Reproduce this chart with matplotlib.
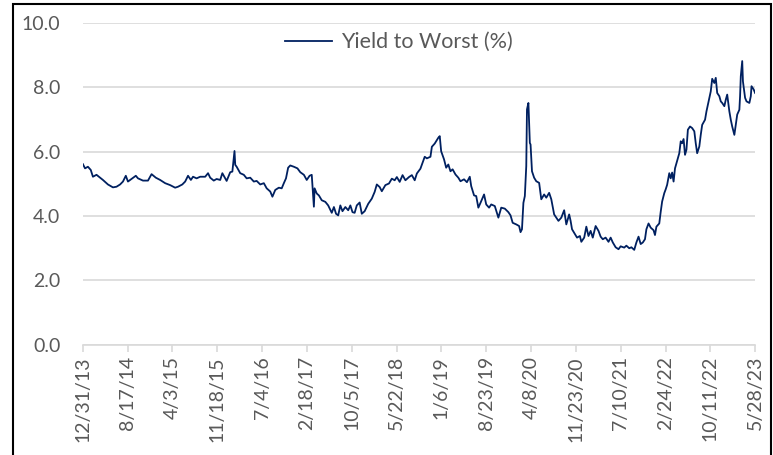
import numpy as np
import pandas as pd
import matplotlib
matplotlib.use("Agg")
import matplotlib.pyplot as plt
from matplotlib.patches import Rectangle

# values (decimal year, yield %)
years = [
    2014.00, 2014.03, 2014.07, 2014.11, 2014.14, 2014.19, 2014.24, 2014.28, 2014.35, 2014.42,
    2014.47, 2014.52, 2014.56, 2014.60, 2014.63, 2014.68, 2014.74, 2014.77, 2014.84, 2014.91,
    2014.96, 2015.02, 2015.08, 2015.15, 2015.22, 2015.29, 2015.33, 2015.39, 2015.43, 2015.47,
    2015.51, 2015.54, 2015.59, 2015.64, 2015.71, 2015.75, 2015.78, 2015.83, 2015.87, 2015.92,
    2015.95, 2016.01, 2016.06, 2016.09, 2016.12, 2016.13, 2016.15, 2016.20, 2016.25, 2016.29,
    2016.34, 2016.39, 2016.43, 2016.48, 2016.53, 2016.57, 2016.62, 2016.65, 2016.69, 2016.74,
    2016.78, 2016.81, 2016.84, 2016.87, 2016.90, 2016.95, 2017.00, 2017.04, 2017.09, 2017.13,
    2017.17, 2017.20, 2017.21, 2017.23, 2017.24, 2017.27, 2017.30, 2017.34, 2017.39, 2017.43,
    2017.48, 2017.51, 2017.54, 2017.57, 2017.60, 2017.63, 2017.67, 2017.71, 2017.74, 2017.77,
    2017.80, 2017.83, 2017.87, 2017.90, 2017.94, 2017.99, 2018.04, 2018.08, 2018.11, 2018.15,
    2018.18, 2018.23, 2018.28, 2018.32, 2018.36, 2018.39, 2018.43, 2018.47, 2018.51, 2018.56,
    2018.60, 2018.64, 2018.67, 2018.72, 2018.75, 2018.78, 2018.81, 2018.86, 2018.88, 2018.92,
    2018.97, 2018.99, 2019.01, 2019.05, 2019.08, 2019.11, 2019.14, 2019.17, 2019.21, 2019.25,
    2019.28, 2019.33, 2019.37, 2019.41, 2019.43, 2019.47, 2019.50, 2019.53, 2019.56, 2019.61,
    2019.64, 2019.68, 2019.71, 2019.76, 2019.81, 2019.85, 2019.90, 2019.95, 2019.98, 2020.01,
    2020.06, 2020.10, 2020.12, 2020.14, 2020.16, 2020.18, 2020.20, 2020.21, 2020.23, 2020.25,
    2020.26, 2020.28, 2020.31, 2020.34, 2020.38, 2020.41, 2020.45, 2020.48, 2020.52, 2020.55,
    2020.59, 2020.62, 2020.65, 2020.69, 2020.73, 2020.76, 2020.80, 2020.82, 2020.84, 2020.88,
    2020.91, 2020.95, 2020.97, 2021.01, 2021.04, 2021.07, 2021.10, 2021.13, 2021.17, 2021.21,
    2021.24, 2021.27, 2021.31, 2021.35, 2021.38, 2021.41, 2021.45, 2021.49, 2021.52, 2021.57,
    2021.60, 2021.64, 2021.67, 2021.71, 2021.74, 2021.77, 2021.80, 2021.83, 2021.86, 2021.88,
    2021.91, 2021.94, 2021.98, 2022.00, 2022.02, 2022.06, 2022.08, 2022.10, 2022.13, 2022.15,
    2022.17, 2022.20, 2022.22, 2022.24, 2022.26, 2022.28, 2022.30, 2022.34, 2022.36, 2022.38,
    2022.40, 2022.42, 2022.44, 2022.46, 2022.49, 2022.52, 2022.55, 2022.57, 2022.59, 2022.62,
    2022.64, 2022.66, 2022.70, 2022.72, 2022.76, 2022.78, 2022.80, 2022.83, 2022.85, 2022.87,
    2022.90, 2022.92, 2022.94, 2022.97, 2022.99, 2023.01, 2023.04, 2023.06, 2023.08, 2023.11,
    2023.13, 2023.15, 2023.18, 2023.19, 2023.20, 2023.22, 2023.23, 2023.26, 2023.28, 2023.32,
    2023.34, 2023.35, 2023.38, 2023.40,
]
ytw = [
    5.61, 5.48, 5.53, 5.43, 5.22, 5.28, 5.19, 5.12, 4.98, 4.89,
    4.91, 4.98, 5.07, 5.25, 5.07, 5.15, 5.25, 5.17, 5.10, 5.10,
    5.30, 5.19, 5.12, 5.02, 4.96, 4.88, 4.91, 4.98, 5.07, 5.25,
    5.12, 5.22, 5.17, 5.22, 5.22, 5.33, 5.19, 5.10, 5.15, 5.12,
    5.33, 5.09, 5.36, 5.38, 6.02, 5.59, 5.53, 5.33, 5.28, 5.17,
    5.19, 5.07, 5.09, 4.98, 5.02, 4.86, 4.76, 4.60, 4.81, 4.88,
    4.86, 5.02, 5.17, 5.50, 5.57, 5.53, 5.48, 5.36, 5.28, 5.12,
    5.25, 5.28, 4.96, 4.29, 4.86, 4.70, 4.64, 4.49, 4.44, 4.33,
    4.10, 4.28, 4.07, 4.02, 4.33, 4.15, 4.28, 4.18, 4.33, 4.12,
    4.10, 4.33, 4.42, 4.07, 4.15, 4.38, 4.54, 4.75, 4.98, 4.90,
    4.77, 4.96, 5.01, 5.16, 5.11, 5.21, 5.06, 5.27, 5.11, 5.21,
    5.27, 5.11, 5.32, 5.47, 5.66, 5.84, 5.79, 5.84, 6.15, 6.25,
    6.43, 6.48, 6.01, 5.76, 5.50, 5.60, 5.39, 5.45, 5.29, 5.19,
    5.08, 5.14, 5.05, 5.22, 4.93, 4.64, 4.62, 4.26, 4.41, 4.67,
    4.36, 4.26, 4.36, 4.31, 3.95, 4.26, 4.23, 4.12, 4.02, 3.79,
    3.74, 3.69, 3.50, 3.59, 4.41, 4.62, 5.55, 7.31, 7.51, 6.27,
    6.22, 5.39, 5.19, 5.08, 5.03, 4.52, 4.67, 4.57, 4.72, 4.52,
    4.05, 3.95, 3.85, 3.95, 4.18, 3.74, 4.05, 3.85, 3.59, 3.44,
    3.33, 3.38, 3.20, 3.33, 3.67, 3.38, 3.54, 3.33, 3.69, 3.54,
    3.36, 3.28, 3.33, 3.20, 3.33, 3.18, 3.03, 2.97, 3.06, 3.02,
    3.08, 3.00, 3.03, 2.95, 3.18, 3.36, 3.13, 3.18, 3.28, 3.59,
    3.77, 3.64, 3.56, 3.41, 3.67, 3.77, 4.13, 4.45, 4.71, 4.83,
    4.97, 5.33, 5.17, 5.35, 5.07, 5.48, 5.64, 5.95, 6.32, 6.26,
    6.39, 5.90, 6.06, 6.68, 6.78, 6.73, 6.63, 6.26, 5.95, 6.16,
    6.52, 6.83, 6.99, 7.25, 7.67, 7.87, 8.26, 8.13, 8.29, 7.82,
    7.72, 7.56, 7.51, 7.41, 7.61, 7.77, 7.25, 6.99, 6.78, 6.52,
    6.83, 7.15, 7.30, 7.72, 8.34, 8.81, 8.18, 7.67, 7.56, 7.51,
    7.72, 8.03, 7.93, 7.82,
]
tick_labels = ["12/31/13", "8/17/14", "4/3/15", "11/18/15", "7/4/16", "2/18/17",
               "10/5/17", "5/22/18", "1/6/19", "8/23/19", "4/8/20", "11/23/20",
               "7/10/21", "2/24/22", "10/11/22", "5/28/23"]
y_ticks = [0, 2, 4, 6, 8, 10]

plt.rcParams["font.family"] = ["Lato", "DejaVu Sans"]

dates = pd.Timestamp("2014-01-01") + pd.to_timedelta((np.array(years) - 2014) * 365.25, unit="D")
tick_dates = pd.to_datetime(tick_labels, format="%m/%d/%y")

fig = plt.figure(figsize=(7.73, 4.55), dpi=100)
ax = fig.add_axes([0.107, 0.242, 0.870, 0.708])

ax.plot(dates, ytw, color="#002060", lw=1.3, label="Yield to Worst (%)")

ax.set_xlim(tick_dates[0], tick_dates[-1])
ax.set_ylim(0, 10)
ax.set_yticks(y_ticks)
ax.set_yticklabels([f"{v:.1f}" for v in y_ticks])
ax.set_xticks(tick_dates)
ax.set_xticklabels(tick_labels, rotation=90)

ax.grid(axis="y", color="#d9d9d9", lw=1.2)
ax.set_axisbelow(True)
for s in ["top", "right", "left"]:
    ax.spines[s].set_visible(False)
ax.spines["bottom"].set_color("#d9d9d9")
ax.spines["bottom"].set_linewidth(1.2)
ax.tick_params(axis="y", length=0, pad=16, labelsize=14, labelcolor="#595959")
ax.tick_params(axis="x", length=5, width=1.2, color="#d9d9d9", pad=3,
               labelsize=14, labelcolor="#595959")

leg = ax.legend(loc="center", bbox_to_anchor=(0.47, 0.94), frameon=False,
                handlelength=2.2, handletextpad=0.4, fontsize=15.5)
for t in leg.get_texts():
    t.set_color("#595959")

# outer frame around the chart
fig.add_artist(Rectangle((13 / 773, -0.1), (771 - 13) / 773, 1.1 - 4 / 455,
                         transform=fig.transFigure, fill=False, edgecolor="black", lw=1.5))

fig.savefig("out.png", dpi=100)
